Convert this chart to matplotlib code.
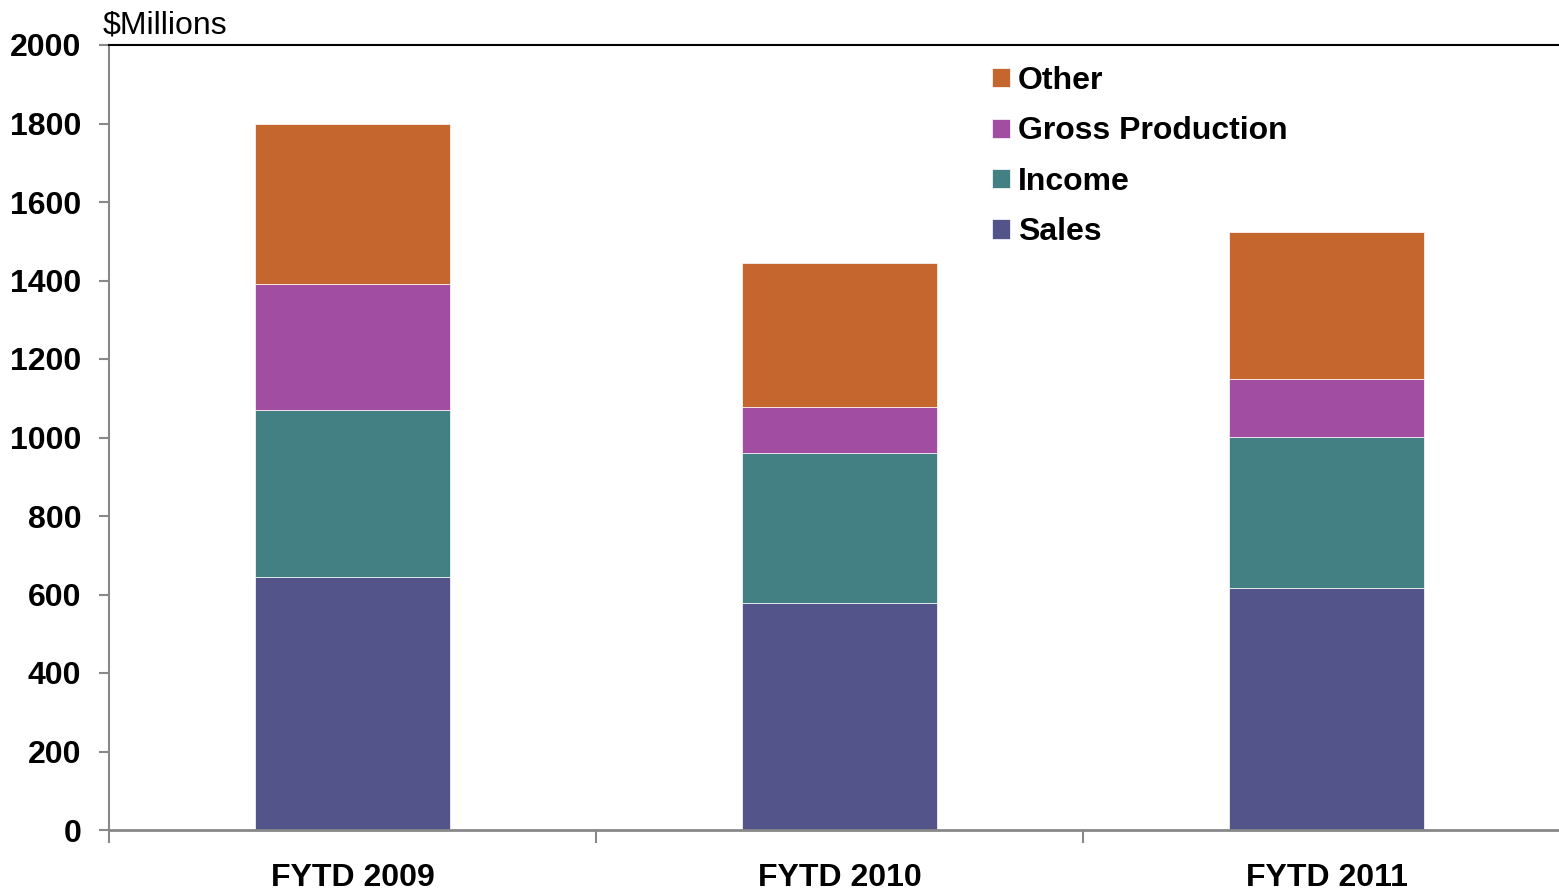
import numpy as np
import matplotlib
matplotlib.use("Agg")
import matplotlib.pyplot as plt

# Data ($ millions)
categories = ['FYTD 2009', 'FYTD 2010', 'FYTD 2011']
sales = [645, 578, 617]
income = [425, 382, 384]
gross_production = [321, 118, 148]
other = [408, 367, 375]

series_names = ['Sales', 'Income', 'Gross Production', 'Other']
series_colors = ['#535489', '#438084', '#A14EA2', '#C5662E']

plt.rcParams['font.family'] = ['Liberation Sans', 'DejaVu Sans']

fig = plt.figure(figsize=(15.59, 8.92), dpi=100)
ax = fig.add_axes([109 / 1559, 62 / 892, 1461 / 1559, 785 / 892])

x = np.arange(len(categories))
bottom = np.zeros(len(categories))
handles = []
for name, vals, color in zip(series_names, [sales, income, gross_production, other], series_colors):
    bars = ax.bar(x, vals, width=0.4, bottom=bottom, color=color,
                  edgecolor='white', linewidth=0.5, label=name, zorder=2)
    handles.append(bars)
    bottom += np.array(vals)

ax.set_xlim(-0.5, 2.5)
ax.set_ylim(0, 2000)
ax.set_yticks(range(0, 2001, 200))

# category boundary ticks on x axis
ax.set_xticks(x)
ax.set_xticklabels(categories, fontsize=23, fontweight='bold')
ax.set_xticks([-0.5, 0.5, 1.5], minor=True)
ax.tick_params(axis='x', which='major', length=0, pad=24)
ax.tick_params(axis='x', which='minor', length=9, width=1.5, color='#888888', direction='out')
ax.tick_params(axis='y', length=7, width=1.5, color='#888888', direction='out', pad=13,
               labelsize=23)
for lbl in ax.get_yticklabels():
    lbl.set_fontweight('bold')

ax.spines['right'].set_visible(False)
ax.spines['left'].set_color('#888888')
ax.spines['left'].set_linewidth(1.5)
ax.spines['bottom'].set_color('#888888')
ax.spines['bottom'].set_linewidth(2)
ax.spines['top'].set_color('black')
ax.spines['top'].set_linewidth(1.5)

fig.text(103 / 1559, 1 - 33 / 892, '$Millions', fontsize=23, va='baseline', ha='left')

leg = ax.legend(handles[::-1], series_names[::-1], loc='upper left',
                bbox_to_anchor=(992 / 1559, 1 - 66 / 892), bbox_transform=fig.transFigure,
                frameon=False, prop={'size': 23, 'weight': 'bold'},
                handlelength=0.55, handleheight=0.55, handletextpad=0.25,
                labelspacing=0.64, borderpad=0, borderaxespad=0)

fig.savefig('out.png', dpi=100)
